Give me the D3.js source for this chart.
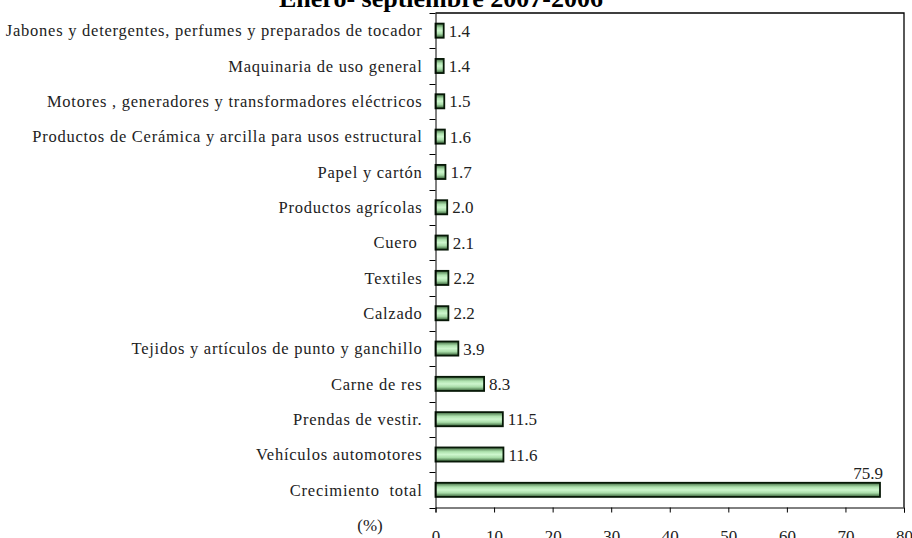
<!DOCTYPE html>
<html><head><meta charset="utf-8">
<script src="https://cdn.jsdelivr.net/npm/d3@7"></script>
<style>body{margin:0;background:#fff}svg{display:block}text{font-family:"Liberation Serif","DejaVu Serif",serif;fill:#222;white-space:pre}</style>
</head><body><svg id="c" width="912" height="538"></svg>
<script>
const title = "Enero- septiembre 2007-2006";
const categories = [
  "Jabones y detergentes, perfumes y preparados de tocador",
  "Maquinaria de uso general",
  "Motores , generadores y transformadores eléctricos",
  "Productos de Cerámica y arcilla para usos estructural",
  "Papel y cartón",
  "Productos agrícolas",
  "Cuero ",
  "Textiles",
  "Calzado",
  "Tejidos y artículos de punto y ganchillo",
  "Carne de res",
  "Prendas de vestir.",
  "Vehículos automotores",
  "Crecimiento  total"
];
const values = [1.4, 1.4, 1.5, 1.6, 1.7, 2.0, 2.1, 2.2, 2.2, 3.9, 8.3, 11.5, 11.6, 75.9];
const xTicks = [0, 10, 20, 30, 40, 50, 60, 70, 80];
const unitLabel = "(%)";

const svg = d3.select("#c");
const m = {left: 435.5, right: 904, top: 13, bottom: 507.5};
const x = d3.scaleLinear().domain([0, 80]).range([m.left, m.right]);
const y = d3.scaleBand().domain(categories).range([m.top, m.bottom]).paddingInner(0.6).paddingOuter(0.3);

const defs = svg.append("defs");
const g = defs.append("linearGradient").attr("id", "bg").attr("x1", 0).attr("y1", 0).attr("x2", 0).attr("y2", 1);
g.append("stop").attr("offset", "0%").attr("stop-color", "#3f6a3f");
g.append("stop").attr("offset", "30%").attr("stop-color", "#aee2ae");
g.append("stop").attr("offset", "50%").attr("stop-color", "#cdf6cd");
g.append("stop").attr("offset", "72%").attr("stop-color", "#a8dca8");
g.append("stop").attr("offset", "100%").attr("stop-color", "#2f5a2f");

// title
svg.append("text").attr("x", 441).attr("y", 7).attr("text-anchor", "middle")
  .attr("font-weight", "bold").attr("font-size", 26).style("fill", "#000").text(title);

// bars
svg.selectAll("rect.bar").data(values).join("rect").attr("class", "bar")
  .attr("x", x(0)).attr("y", (d, i) => y(categories[i]))
  .attr("width", d => x(d) - x(0)).attr("height", y.bandwidth())
  .attr("fill", "url(#bg)").attr("stroke", "#071807").attr("stroke-width", 1.8);

// value labels
const last = values.length - 1;
svg.selectAll("text.val").data(values).join("text").attr("class", "val")
  .attr("font-size", 17)
  .attr("x", (d, i) => i === last ? x(d) + 3 : x(d) + 5)
  .attr("y", (d, i) => i === last ? y(categories[i]) - 4 : y(categories[i]) + y.bandwidth() / 2 + 6)
  .attr("text-anchor", (d, i) => i === last ? "end" : "start")
  .text(d => d.toFixed(1));

// y axis
const yAxis = d3.axisLeft(y).tickSize(0).tickPadding(13);
const ya = svg.append("g").attr("transform", `translate(${m.left},0)`).call(yAxis);
ya.select(".domain").attr("stroke", "#000");
ya.selectAll("text").attr("font-size", 16.5).attr("dy", "0.35em").attr("letter-spacing", 0.75)
  .style("font-family", '"Liberation Serif",serif').style("fill", "#222");
// category separator ticks
const step = y.step();
const sep = d3.range(categories.length + 1).map(i => Math.round(m.top + i * step) + 0.5);
svg.append("g").selectAll("line").data(sep).join("line")
  .attr("x1", m.left - 6).attr("x2", m.left).attr("y1", d => d).attr("y2", d => d).attr("stroke", "#000");

// x axis
const xAxis = d3.axisBottom(x).tickValues(xTicks).tickSize(5).tickPadding(17);
const xa = svg.append("g").attr("transform", `translate(0,${m.bottom})`).call(xAxis);
xa.select(".domain").attr("stroke", "#000");
xa.selectAll("line").attr("stroke", "#000");
xa.selectAll("text").attr("font-size", 17).style("font-family", '"Liberation Serif",serif').style("fill", "#222");

svg.append("text").attr("x", 370).attr("y", 531).attr("text-anchor", "middle").attr("font-size", 17).text(unitLabel);

// plot frame (top and right edges), drawn last
svg.append("path").attr("class", "frame")
  .attr("d", `M${m.left},${m.top}H${m.right}V${m.bottom}`)
  .attr("fill", "none").attr("stroke", "#000").attr("stroke-width", 1.3);
</script></body></html>
